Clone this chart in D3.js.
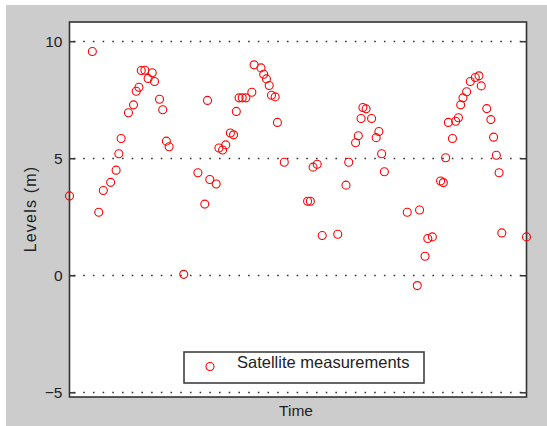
<!DOCTYPE html>
<html>
<head>
<meta charset="utf-8">
<script src="https://cdn.jsdelivr.net/npm/d3@7"></script>
<style>
	body { margin: 0; background: #fff; }
	text { font-family: "Liberation Sans", Arial, sans-serif; fill: #222; }
</style>
</head>
<body>
<script>

	// time of each pass (arbitrary units, start = 0) and water level in metres
	var times = [
		0.00, 0.50, 0.64, 0.74, 0.90, 1.02, 1.08, 1.13, 1.29, 1.40,
		1.46, 1.52, 1.57, 1.65, 1.72, 1.81, 1.86, 1.97, 2.04, 2.12,
		2.18, 2.50, 2.81, 2.96, 3.02, 3.07, 3.21, 3.27, 3.35, 3.42,
		3.52, 3.59, 3.65, 3.71, 3.78, 3.86, 3.99, 4.04, 4.19, 4.25,
		4.31, 4.37, 4.42, 4.50, 4.55, 4.70, 5.21, 5.27, 5.33, 5.42,
		5.53, 5.87, 6.05, 6.11, 6.26, 6.32, 6.38, 6.42, 6.49, 6.61,
		6.71, 6.77, 6.83, 6.89, 7.39, 7.61, 7.66, 7.78, 7.84, 7.94,
		8.12, 8.18, 8.23, 8.29, 8.38, 8.45, 8.51, 8.56, 8.61, 8.69,
		8.77, 8.88, 8.96, 9.01, 9.13, 9.22, 9.28, 9.34, 9.40, 9.46,
		10.00
	];
	var levels = [
		3.39, 9.56, 2.69, 3.62, 3.97, 4.49, 5.19, 5.84, 6.94, 7.28,
		7.86, 8.03, 8.75, 8.76, 8.41, 8.65, 8.28, 7.52, 7.07, 5.73,
		5.49, 0.04, 4.38, 3.04, 7.47, 4.09, 3.90, 5.44, 5.35, 5.57,
		6.08, 6.00, 7.00, 7.58, 7.58, 7.58, 7.82, 8.99, 8.86, 8.59,
		8.39, 8.11, 7.69, 7.62, 6.53, 4.83, 3.16, 3.16, 4.62, 4.74,
		1.70, 1.75, 3.85, 4.83, 5.66, 5.96, 6.70, 7.17, 7.11, 6.70,
		5.88, 6.14, 5.19, 4.42, 2.69, -0.44, 2.79, 0.81, 1.57, 1.64,
		4.03, 3.96, 5.02, 6.53, 5.84, 6.58, 6.73, 7.28, 7.58, 7.84,
		8.28, 8.45, 8.52, 8.09, 7.12, 6.65, 5.90, 5.13, 4.38, 1.81,
		1.64
	];
	var yTicks = [-5, 0, 5, 10];
	var seriesName = "Satellite measurements";
	var xTitle = "Time";
	var yTitle = "Levels (m)";

	var width = 547, height = 426;
	var plot = { left: 69.5, top: 22, right: 526.5, bottom: 397 };
	var markerR = 4;

	var svg = d3.select("body").append("svg")
		.attr("width", width)
		.attr("height", height);

	// grey figure background
	svg.append("rect")
		.attr("x", 6).attr("y", 5)
		.attr("width", width - 6).attr("height", height - 5)
		.attr("fill", "#cccccc");

	var x = d3.scaleLinear()
		.domain(d3.extent(times))
		.range([plot.left, plot.right]);

	var y = d3.scaleLinear()
		.domain([-5.2, 10.82])
		.range([plot.bottom, plot.top]);

	svg.append("rect")
		.attr("x", plot.left).attr("y", plot.top)
		.attr("width", plot.right - plot.left)
		.attr("height", plot.bottom - plot.top)
		.attr("fill", "#fff");

	// dotted grid
	svg.append("g")
		.selectAll("line")
		.data(yTicks)
		.enter().append("line")
		.attr("x1", plot.left + 4).attr("x2", plot.right)
		.attr("y1", function(d) { return Math.round(y(d)) + 0.5; })
		.attr("y2", function(d) { return Math.round(y(d)) + 0.5; })
		.attr("stroke", "#333")
		.attr("stroke-width", 1.6)
		.attr("stroke-dasharray", "1.6,8.1");

	// left axis, ticks pointing in
	var leftAxis = d3.axisLeft(y).tickValues(yTicks).tickSize(-6).tickPadding(7);
	var gl = svg.append("g")
		.attr("transform", "translate(" + plot.left + ",0)")
		.call(leftAxis);
	gl.select(".domain").remove();
	gl.selectAll(".tick line").attr("stroke", "#333").attr("stroke-width", 1.5);
	gl.selectAll(".tick text")
		.attr("font-size", 15.5)
		.attr("font-family", "Liberation Sans, Arial, sans-serif")
		.attr("fill", "#222");

	var rightAxis = d3.axisRight(y).tickValues(yTicks).tickSize(-6).tickFormat("");
	var gr = svg.append("g")
		.attr("transform", "translate(" + plot.right + ",0)")
		.call(rightAxis);
	gr.select(".domain").remove();
	gr.selectAll(".tick line").attr("stroke", "#333").attr("stroke-width", 1.5);

	// axes box
	svg.append("rect")
		.attr("x", plot.left).attr("y", plot.top)
		.attr("width", plot.right - plot.left)
		.attr("height", plot.bottom - plot.top)
		.attr("fill", "none")
		.attr("stroke", "#333")
		.attr("stroke-width", 1.6);

	// measurements
	svg.append("g")
		.selectAll("circle")
		.data(times)
		.enter().append("circle")
		.attr("cx", function(d) { return x(d); })
		.attr("cy", function(d, i) { return y(levels[i]); })
		.attr("r", markerR)
		.attr("fill", "none")
		.attr("stroke", "#ff0000")
		.attr("stroke-width", 1.1);

	svg.append("text")
		.attr("x", 296)
		.attr("y", 416)
		.attr("text-anchor", "middle")
		.attr("font-size", 15.5)
		.text(xTitle);

	svg.append("text")
		.attr("transform", "translate(36,209) rotate(-90)")
		.attr("text-anchor", "middle")
		.attr("font-size", 16)
		.attr("letter-spacing", 1.2)
		.text(yTitle);

	// legend
	var legend = svg.append("g").attr("transform", "translate(184,352)");
	legend.append("rect")
		.attr("width", 240).attr("height", 31)
		.attr("fill", "#fff")
		.attr("stroke", "#333")
		.attr("stroke-width", 1.5);
	legend.append("circle")
		.attr("cx", 26).attr("cy", 14.5)
		.attr("r", markerR)
		.attr("fill", "none")
		.attr("stroke", "#ff0000")
		.attr("stroke-width", 1.1);
	legend.append("text")
		.attr("x", 53).attr("y", 15.5)
		.attr("font-size", 16.5)
		.text(seriesName);

</script>
</body>
</html>
